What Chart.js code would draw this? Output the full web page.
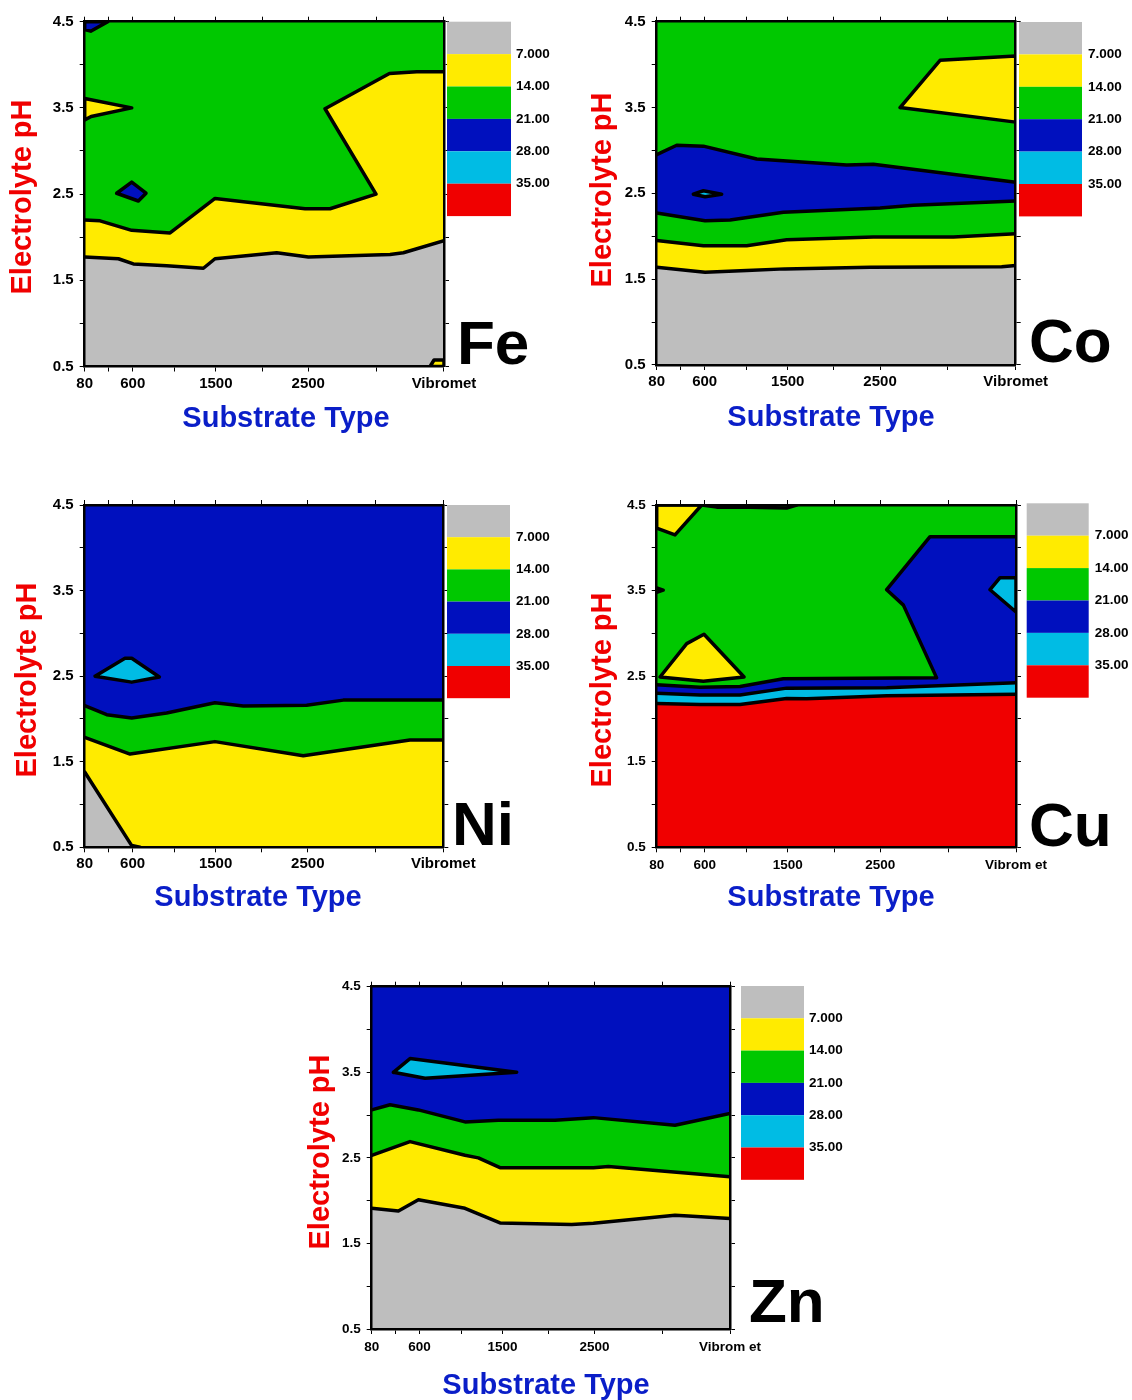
<!DOCTYPE html>
<html>
<head>
<meta charset="utf-8">
<script src="https://cdn.jsdelivr.net/npm/chart.js@4.4.1/dist/chart.umd.min.js"></script>
<style>
html, body { margin: 0; padding: 0; background: #ffffff; }
#wrap { position: relative; width: 1132px; height: 1400px; overflow: hidden; background: #ffffff; }
#wrap canvas { position: absolute; left: 0; top: 0; }
</style>
</head>
<body>
<div id="wrap"></div>
<script>
// ---------------- DATA ----------------
// Axis ranges / ticks (substrate axis, "Vibromet" placed at the end)
const xMin = 80, xMax = 3970, yMin = 0.5, yMax = 4.5;
const xTickValues = [80, 340, 600, 1050, 1500, 2000, 2500, 3235, 3970];
const xTickLabels = ['80', '', '600', '', '1500', '', '2500', '', 'Vibromet'];
const xTickLabelsB = ['80', '', '600', '', '1500', '', '2500', '', 'Vibrom et'];
const yTickValues = [0.5, 1, 1.5, 2, 2.5, 3, 3.5, 4, 4.5];
const yTickLabels = ['0.5', '', '1.5', '', '2.5', '', '3.5', '', '4.5'];
const levelLabels = ['7.000', '14.00', '21.00', '28.00', '35.00'];
const xTitleText = 'Substrate Type';
const yTitleText = 'Electrolyte pH';

// Contour lines [substrate, pH]
// Fe
const feGrayTop = [[80,1.77],[445,1.75],[607,1.69],[968,1.67],[1365,1.64],[1491,1.75],[2159,1.82],[2502,1.77],[3386,1.80],[3530,1.82],[3970,1.96]];
const feYellowTop = [[80,2.20],[246,2.19],[589,2.08],[1004,2.05],[1491,2.45],[2466,2.33],[2736,2.33],[3234,2.50],[2682,3.49],[3379,3.90],[3675,3.92],[3970,3.92]];
const feYellowWedge = [[80,3.61],[589,3.50],[150,3.40],[80,3.36]];
const feBlueCorner = [[80,4.5],[330,4.5],[145,4.39],[80,4.41]];
const feBlueIsland = [[426,2.51],[589,2.64],[744,2.51],[661,2.42]];
const feYellowCorner = [[3819,0.5],[3862,0.575],[3970,0.575],[3970,0.5]];
// Co
const coGrayTop = [[80,1.64],[604,1.58],[1055,1.60],[1471,1.62],[2392,1.64],[3818,1.645],[3970,1.66]];
const coYellowTop = [[80,1.95],[586,1.89],[1055,1.89],[1489,1.96],[2428,1.99],[3295,1.99],[3970,2.03]];
const coGreenTop = [[80,2.27],[604,2.18],[875,2.19],[1453,2.28],[2500,2.33],[2861,2.36],[3970,2.41]];
const coBlueTop = [[80,2.95],[297,3.06],[586,3.05],[1164,2.90],[2139,2.83],[2428,2.84],[3970,2.63]];
const coYellowIsland = [[2717,3.50],[3150,4.05],[3970,4.10],[3970,3.33]];
const coCyanIsland = [[477,2.49],[586,2.53],[784,2.49],[604,2.46]];
// Ni
const niGreenTop = [[80,2.155],[319,2.05],[590,2.01],[969,2.07],[1493,2.19],[1801,2.15],[2488,2.16],[2885,2.22],[3970,2.22]];
const niYellowTop = [[80,1.785],[572,1.59],[1493,1.735],[2451,1.57],[3608,1.754],[3970,1.754]];
const niGrayTop = [[80,1.38],[590,0.52],[680,0.5]];
const niCyanIsland = [[192,2.50],[517,2.71],[590,2.71],[890,2.49],[590,2.43]];
// Cu
const cuBlueTop = [[80,2.40],[549,2.37],[982,2.38],[1451,2.47],[3111,2.48],[2751,3.33],[2570,3.51],[3039,4.13],[3970,4.13]];
const cuCyanTop = [[80,2.30],[549,2.28],[982,2.28],[1487,2.36],[2570,2.365],[3970,2.424]];
const cuRedTop = [[80,2.18],[549,2.17],[982,2.17],[1487,2.24],[1704,2.235],[2570,2.27],[3970,2.288]];
const cuYellowCorner = [[80,4.5],[567,4.5],[278,4.15],[80,4.23]];
const cuYellowIsland = [[116,2.49],[405,2.88],[592,2.99],[1026,2.49],[585,2.44]];
const cuCyanIsland = [[3689,3.51],[3797,3.65],[3970,3.65],[3970,3.25]];
const cuTopLine = [[567,4.5],[730,4.475],[1090,4.475],[1487,4.465],[1595,4.5]];
const cuLeftBlob = [[80,3.53],[150,3.505],[80,3.48]];
// Zn
const znGreenTop = [[80,3.06],[279,3.12],[587,3.06],[1093,2.92],[1455,2.94],[2070,2.94],[2487,2.97],[3373,2.88],[3970,3.02]];
const znYellowTop = [[80,2.53],[496,2.69],[1093,2.53],[1238,2.50],[1473,2.385],[2487,2.385],[2650,2.40],[3970,2.28]];
const znGrayTop = [[80,1.91],[370,1.88],[587,2.01],[1093,1.91],[1473,1.74],[2251,1.72],[2487,1.735],[3373,1.83],[3518,1.82],[3970,1.79]];
const znCyanIsland = [[315,3.50],[496,3.66],[1654,3.50],[659,3.43]];

// ---------------- STYLE ----------------
const FONT = '"Liberation Sans", Arial, Helvetica, sans-serif';
const COLORS = { gray: '#BEBEBE', yellow: '#FFEB00', green: '#00C800', blue: '#0010BE', cyan: '#00BCE4', red: '#F00000' };
const bandOrder = ['gray', 'yellow', 'green', 'blue', 'cyan', 'red'];
const X_TITLE_COLOR = '#0A1EC8';
const Y_TITLE_COLOR = '#F00000';
const LINE_W = 3.5;

const panels = [
  { name: 'Fe', area: { l: 84.7, r: 444, t: 21.7, b: 366.5 }, tickSize: 15, xPad: 3, xLabels: xTickLabels,
    legend: { x: 447, y: 21.7, w: 64, h: 32.4, gap: 5 }, label: { x: 457, y: 364 },
    yTitle: { x: 31, y: 197 }, xTitle: { x: 286, y: 427 },
    layers: [
      { kind: 'base', band: 'green' },
      { kind: 'below', pts: feYellowTop, band: 'yellow' },
      { kind: 'below', pts: feGrayTop, band: 'gray' },
      { kind: 'line', pts: feYellowTop },
      { kind: 'line', pts: feGrayTop },
      { kind: 'island', pts: feYellowWedge, band: 'yellow' },
      { kind: 'island', pts: feBlueCorner, band: 'blue' },
      { kind: 'island', pts: feBlueIsland, band: 'blue' },
      { kind: 'island', pts: feYellowCorner, band: 'yellow' }
    ] },
  { name: 'Co', area: { l: 656.7, r: 1015.7, t: 21.7, b: 365 }, tickSize: 15, xPad: 3, xLabels: xTickLabels,
    legend: { x: 1019, y: 22, w: 63, h: 32.4, gap: 6 }, label: { x: 1029, y: 362 },
    yTitle: { x: 611, y: 190 }, xTitle: { x: 831, y: 426 },
    layers: [
      { kind: 'base', band: 'green' },
      { kind: 'below', pts: coBlueTop, band: 'blue' },
      { kind: 'below', pts: coGreenTop, band: 'green' },
      { kind: 'below', pts: coYellowTop, band: 'yellow' },
      { kind: 'below', pts: coGrayTop, band: 'gray' },
      { kind: 'line', pts: coBlueTop },
      { kind: 'line', pts: coGreenTop },
      { kind: 'line', pts: coYellowTop },
      { kind: 'line', pts: coGrayTop },
      { kind: 'island', pts: coYellowIsland, band: 'yellow' },
      { kind: 'island', pts: coCyanIsland, band: 'cyan' }
    ] },
  { name: 'Ni', area: { l: 84.7, r: 443.3, t: 505, b: 847.3 }, tickSize: 15, xPad: 3, xLabels: xTickLabels,
    legend: { x: 447, y: 505, w: 63, h: 32.2, gap: 6 }, label: { x: 452, y: 845 },
    yTitle: { x: 36, y: 680 }, xTitle: { x: 258, y: 906 },
    layers: [
      { kind: 'base', band: 'blue' },
      { kind: 'below', pts: niGreenTop, band: 'green' },
      { kind: 'below', pts: niYellowTop, band: 'yellow' },
      { kind: 'below', pts: niGrayTop, band: 'gray' },
      { kind: 'line', pts: niGreenTop },
      { kind: 'line', pts: niYellowTop },
      { kind: 'line', pts: niGrayTop },
      { kind: 'island', pts: niCyanIsland, band: 'cyan' }
    ] },
  { name: 'Cu', area: { l: 656.7, r: 1016, t: 505, b: 847.3 }, tickSize: 13.5, xPad: 5, xLabels: xTickLabelsB,
    legend: { x: 1026.7, y: 503.3, w: 62, h: 32.4, gap: 6 }, label: { x: 1029, y: 846 },
    yTitle: { x: 611, y: 690 }, xTitle: { x: 831, y: 906 },
    layers: [
      { kind: 'base', band: 'green' },
      { kind: 'below', pts: cuBlueTop, band: 'blue' },
      { kind: 'below', pts: cuCyanTop, band: 'cyan' },
      { kind: 'below', pts: cuRedTop, band: 'red' },
      { kind: 'line', pts: cuBlueTop },
      { kind: 'line', pts: cuCyanTop },
      { kind: 'line', pts: cuRedTop },
      { kind: 'line', pts: cuTopLine },
      { kind: 'line', pts: cuLeftBlob },
      { kind: 'island', pts: cuYellowCorner, band: 'yellow' },
      { kind: 'island', pts: cuYellowIsland, band: 'yellow' },
      { kind: 'island', pts: cuCyanIsland, band: 'cyan' }
    ] },
  { name: 'Zn', area: { l: 371.7, r: 730, t: 986.7, b: 1329 }, tickSize: 13.5, xPad: 5, xLabels: xTickLabelsB,
    legend: { x: 741, y: 986, w: 63, h: 32.3, gap: 5 }, label: { x: 749, y: 1322 },
    yTitle: { x: 329, y: 1152 }, xTitle: { x: 546, y: 1394 },
    layers: [
      { kind: 'base', band: 'blue' },
      { kind: 'below', pts: znGreenTop, band: 'green' },
      { kind: 'below', pts: znYellowTop, band: 'yellow' },
      { kind: 'below', pts: znGrayTop, band: 'gray' },
      { kind: 'line', pts: znGreenTop },
      { kind: 'line', pts: znYellowTop },
      { kind: 'line', pts: znGrayTop },
      { kind: 'island', pts: znCyanIsland, band: 'cyan' }
    ] }
];

// ---------------- BUILD ----------------
const W = 1132, H = 1400;
const Y_W = 40, Y2_W = 6, X_H = 40, X2_H = 6;
const toXY = a => a.map(([x, y]) => ({ x, y }));

function datasetFor(layer) {
  const base = { showLine: true, pointRadius: 0, pointHoverRadius: 0, tension: 0 };
  if (layer.kind === 'base') {
    return Object.assign(base, { data: toXY([[xMin, yMin], [xMin, yMax], [xMax, yMax], [xMax, yMin]]),
      fill: 'shape', backgroundColor: COLORS[layer.band], borderColor: 'rgba(0,0,0,0)', borderWidth: 0 });
  }
  if (layer.kind === 'below') {
    return Object.assign(base, { data: toXY([[xMin, yMin], ...layer.pts, [xMax, yMin]]),
      fill: 'shape', backgroundColor: COLORS[layer.band], borderColor: 'rgba(0,0,0,0)', borderWidth: 0 });
  }
  if (layer.kind === 'line') {
    return Object.assign(base, { data: toXY(layer.pts), fill: false, borderColor: '#000000', borderWidth: LINE_W,
      borderJoinStyle: 'round', borderCapStyle: 'round' });
  }
  // island (closed contour)
  return Object.assign(base, { data: toXY([...layer.pts, layer.pts[0]]), fill: 'shape',
    backgroundColor: COLORS[layer.band], borderColor: '#000000', borderWidth: LINE_W,
    borderJoinStyle: 'round', borderCapStyle: 'round' });
}

const panelDecor = {
  id: 'panelDecor',
  afterDraw(chart, args, o) {
    const ctx = chart.ctx;
    ctx.save();
    // colour bar legend
    const lg = o.legend;
    bandOrder.forEach((b, i) => {
      ctx.fillStyle = COLORS[b];
      ctx.fillRect(lg.x, lg.y + i * lg.h, lg.w, lg.h);
    });
    ctx.fillStyle = '#000';
    ctx.font = 'bold 13.5px ' + FONT;
    ctx.textAlign = 'left';
    ctx.textBaseline = 'middle';
    levelLabels.forEach((t, i) => ctx.fillText(t, lg.x + lg.w + lg.gap, lg.y + (i + 1) * lg.h));
    // element label
    ctx.font = 'bold 62px ' + FONT;
    ctx.textBaseline = 'alphabetic';
    ctx.fillText(o.name, o.label.x, o.label.y);
    // axis titles
    ctx.font = 'bold 29px ' + FONT;
    ctx.textAlign = 'center';
    ctx.fillStyle = X_TITLE_COLOR;
    ctx.fillText(xTitleText, o.xTitle.x, o.xTitle.y);
    ctx.save();
    ctx.translate(o.yTitle.x, o.yTitle.y);
    ctx.rotate(-Math.PI / 2);
    ctx.fillStyle = Y_TITLE_COLOR;
    ctx.fillText(yTitleText, 0, 0);
    ctx.restore();
    ctx.restore();
  }
};

function axis(kind, p) {
  const tickFont = { family: FONT, weight: 'bold', size: p.tickSize };
  const isX = kind[0] === 'x';
  const main = kind === 'x' || kind === 'y';
  return {
    type: 'linear',
    min: isX ? xMin : yMin, max: isX ? xMax : yMax,
    position: { x: 'bottom', x2: 'top', y: 'left', y2: 'right' }[kind],
    grid: { drawOnChartArea: false, drawTicks: true, tickLength: 5, tickColor: '#000', tickWidth: 1, z: 1 },
    border: { display: true, color: '#000', width: 2.5, z: 2 },
    afterBuildTicks: s => { s.ticks = (isX ? xTickValues : yTickValues).map(v => ({ value: v })); },
    ticks: {
      display: main, autoSkip: false, maxRotation: 0, minRotation: 0, color: '#000', font: tickFont,
      padding: isX ? p.xPad : 6, z: 1,
      callback: (v, i) => (isX ? p.xLabels[i] : yTickLabels[i])
    },
    afterFit: s => {
      if (kind === 'x') s.height = X_H;
      if (kind === 'x2') s.height = X2_H;
      if (kind === 'y') s.width = Y_W;
      if (kind === 'y2') s.width = Y2_W;
    }
  };
}

const wrap = document.getElementById('wrap');
panels.forEach(p => {
  const cv = document.createElement('canvas');
  cv.width = W; cv.height = H;
  cv.style.width = W + 'px'; cv.style.height = H + 'px';
  wrap.appendChild(cv);
  const ds = p.layers.map(datasetFor);
  ds.forEach((d, i) => { d.order = ds.length - i; d.xAxisID = 'x'; d.yAxisID = 'y'; });
  new Chart(cv.getContext('2d'), {
    type: 'scatter',
    data: { datasets: ds },
    options: {
      responsive: false, animation: false, devicePixelRatio: 1, events: [],
      layout: { padding: { left: p.area.l - Y_W, right: W - p.area.r - Y2_W, top: p.area.t - X2_H, bottom: H - p.area.b - X_H } },
      plugins: {
        legend: { display: false }, tooltip: { enabled: false }, title: { display: false },
        panelDecor: { name: p.name, legend: p.legend, label: p.label, xTitle: p.xTitle, yTitle: p.yTitle }
      },
      scales: { x: axis('x', p), x2: axis('x2', p), y: axis('y', p), y2: axis('y2', p) }
    },
    plugins: [panelDecor]
  });
});
</script>
</body>
</html>
